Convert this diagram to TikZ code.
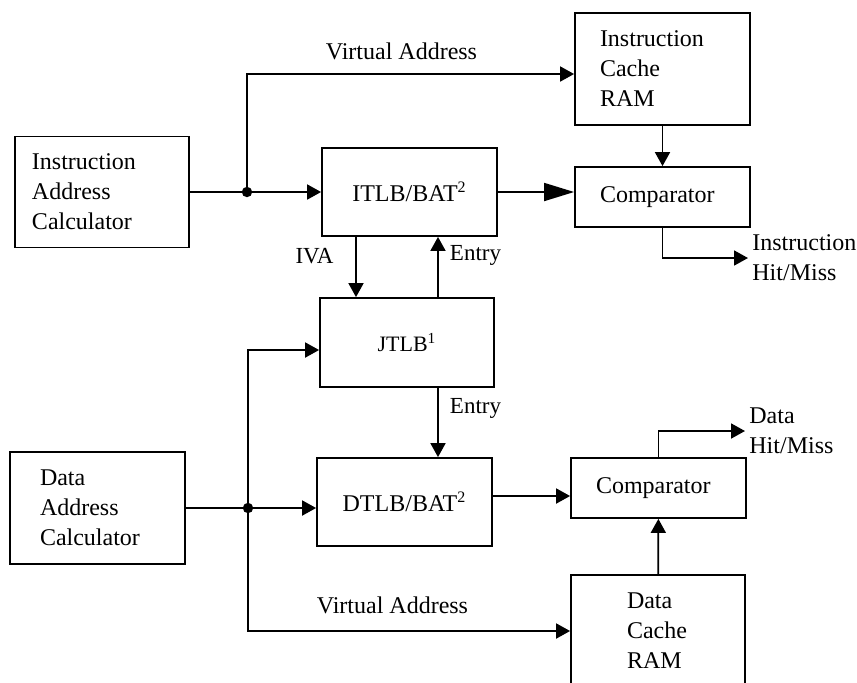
\documentclass[tikz,border=0pt]{standalone}
\usepackage{fontspec}
\setmainfont{Liberation Serif}
\usetikzlibrary{arrows.meta}
\tikzset{blk/.style={draw, line width=0.9pt, inner ysep=0pt, align=left,
    font=\fontsize{12}{15}\selectfont},
  lbl/.style={inner sep=0pt, font=\fontsize{12}{15}\selectfont},
  smalllbl/.style={inner sep=0pt, font=\fontsize{11.5}{13}\selectfont}}
\def\arrowline{\draw[line width=0.9pt, -{Triangle[length=7pt,width=7.5pt]}]}
\def\bigarrowline{\draw[line width=0.9pt, -{Triangle[length=15pt,width=9pt]}]}

\begin{document}
\begin{tikzpicture}[x=0.5pt,y=-0.5pt]
\useasboundingbox (0,0) rectangle (857,682);
\clip (0,0) rectangle (857,682);
% instruction side
\node[blk, inner xsep=8.5pt, text width=70pt, minimum height=55.5pt] (iac) at (102,192) {Instruction\\Address\\Calculator};
\node[blk, inner xsep=12.5pt, text width=62.5pt, minimum height=56pt] (icache) at (662.5,69) {Instruction\\Cache\\RAM};
\node[blk, align=center, minimum width=87.5pt, minimum height=44pt] (itlb) at (409.5,192) {ITLB/BAT\textsuperscript{2}};
\node[blk, inner xsep=12.5pt, text width=62.5pt, minimum height=30pt] (icomp) at (662.5,197) {Comparator};
\node[blk, align=center, minimum width=87pt, minimum height=44.5pt, font=\fontsize{11}{13}\selectfont] (jtlb) at (407,342.5) {JTLB\textsuperscript{1}};
% data side
\node[blk, inner xsep=15pt, text width=57.5pt, minimum height=56pt] (dac) at (97.5,508) {Data\\Address\\Calculator};
\node[blk, align=center, minimum width=87.5pt, minimum height=44pt] (dtlb) at (404.5,502) {DTLB/BAT\textsuperscript{2}};
\node[blk, inner xsep=12.5pt, text width=62.5pt, minimum height=30pt] (dcomp) at (658.5,488) {Comparator};
\node[blk, inner xsep=28pt, text width=31pt, minimum height=56pt] (dcache) at (658,631) {Data\\Cache\\RAM};
% labels
\node[lbl] (vatop) at (401.5,51) {Virtual Address};
\node[lbl] (vabot) at (392.5,605) {Virtual Address};
\node[smalllbl] (iva) at (314.5,256) {IVA};
\node[smalllbl] (entup) at (475.5,255) {Entry};
\node[smalllbl] (entdn) at (475.5,408) {Entry};
\node[lbl, anchor=west, inner xsep=2pt, align=left] (ihit) at (748,258) {Instruction\\Hit/Miss};
\node[lbl, anchor=west, inner xsep=2pt, align=left] (dhit) at (745,431) {Data\\Hit/Miss};
% branch points
\coordinate (isplit) at (247,192);
\coordinate (dsplit) at (248,508);
\coordinate (ivax) at (356,0);
\coordinate (entx) at (438,0);

\arrowline (iac.east) -- (itlb.west);
\arrowline (isplit) |- ([yshift=-2.5pt]icache.west);
\fill (isplit) circle (2.6pt);
\bigarrowline (itlb.east) -- (itlb.east -| icomp.west);
\arrowline (icache) -- (icomp);
\arrowline (icomp.south) |- (ihit.west);
\arrowline (itlb.south -| ivax) -- (jtlb.north -| ivax);
\arrowline (jtlb.north -| entx) -- (itlb.south -| entx);
\arrowline (jtlb.south -| entx) -- (dtlb.north -| entx);
\arrowline (dac.east) -- (dac.east -| dtlb.west);
\fill (dsplit) circle (2.6pt);
\arrowline (dsplit) |- ([yshift=-3.75pt]jtlb.west);
\arrowline (dsplit) |- (dcache.west);
\arrowline ([yshift=3pt]dtlb.east) -- ([yshift=3pt]dtlb.east -| dcomp.west);
\arrowline (dcache) -- (dcomp);
\arrowline (dcomp.north) |- (dhit.west);
\end{tikzpicture}
\end{document}
